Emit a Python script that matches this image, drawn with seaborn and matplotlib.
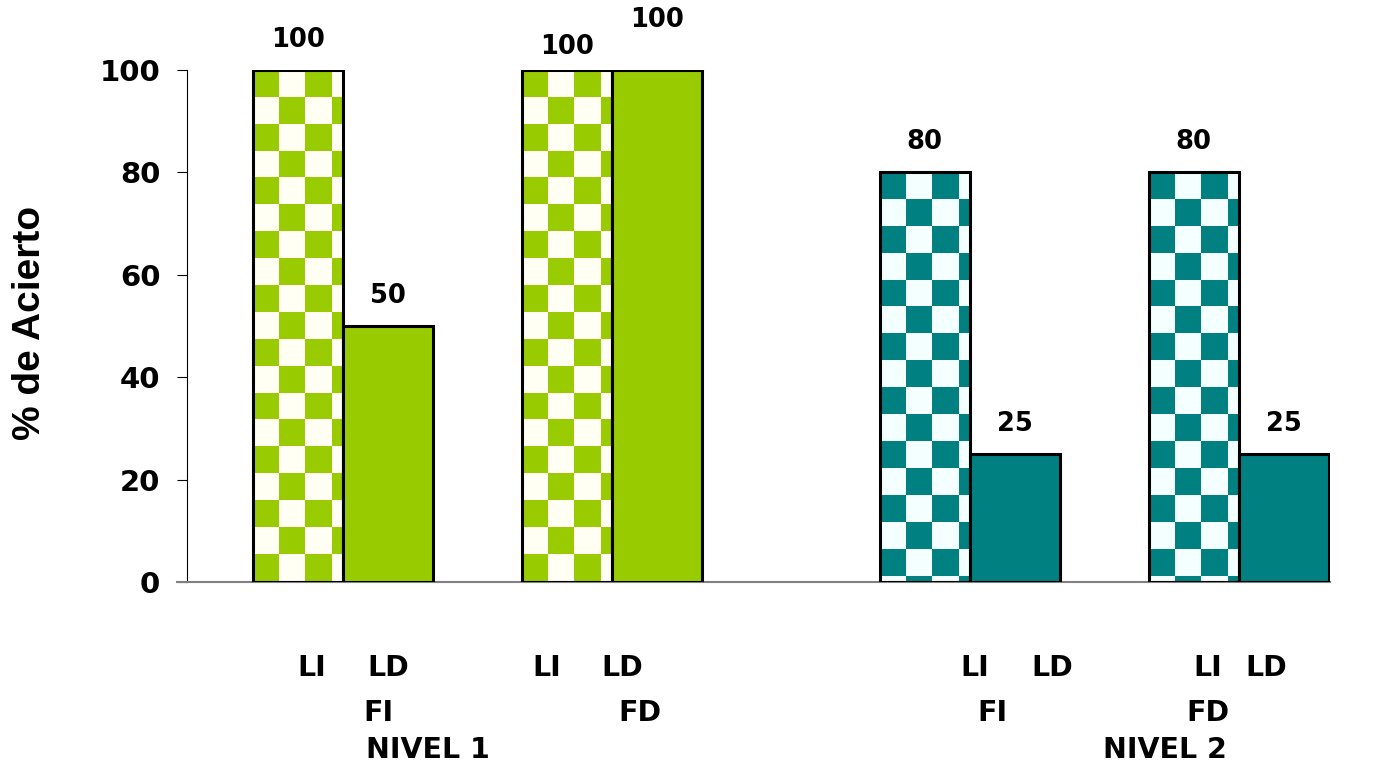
import numpy as np
import pandas as pd
import matplotlib
matplotlib.use("Agg")
import matplotlib.pyplot as plt
import matplotlib.transforms as mtransforms
from matplotlib.colors import ListedColormap
import seaborn as sns

# ---- data ----
niveles = ["NIVEL 1", "NIVEL 1", "NIVEL 2", "NIVEL 2"]
formas = ["FI", "FD", "FI", "FD"]
lados = ["LI", "LD"]
acierto_li = [100, 100, 80, 80]
acierto_ld = [50, 100, 25, 25]
y_ticks = [0, 20, 40, 60, 80, 100]

nivel_colors = {"NIVEL 1": "#99CC00", "NIVEL 2": "#008080"}
light_colors = {"NIVEL 1": "#FFFFF4", "NIVEL 2": "#F4FFFF"}

# group positions: one slot per group, extra gap before the second level
level_gap = 0.33
group_pos = [i + (level_gap if n == "NIVEL 2" else 0.0) for i, n in enumerate(niveles)]

rows = []
for g, (pos, niv, fo) in enumerate(zip(group_pos, niveles, formas)):
    rows.append({"pos": pos, "lado": "LI", "valor": acierto_li[g], "nivel": niv, "forma": fo})
    rows.append({"pos": pos, "lado": "LD", "valor": acierto_ld[g], "nivel": niv, "forma": fo})
df = pd.DataFrame(rows)

sns.set_theme(style="white")
plt.rcParams["font.family"] = ["DejaVu Sans"]
plt.rcParams["font.weight"] = "bold"
plt.rcParams["text.color"] = "black"
plt.rcParams["ytick.color"] = "black"
plt.rcParams["ytick.labelcolor"] = "black"
plt.rcParams["ytick.labelsize"] = 21

fig = plt.figure(figsize=(13.86, 7.69), dpi=100)
ax = fig.add_axes([177 / 1386, 187 / 769, (1330 - 177) / 1386, 512 / 769])

sns.barplot(data=df, x="pos", y="valor", hue="lado", hue_order=lados,
            native_scale=True, width=0.67, dodge=True, errorbar=None,
            legend=False, ax=ax, linewidth=2.2, edgecolor="black", saturation=1)

li_bars = ax.containers[0]
ld_bars = ax.containers[1]

# checkerboard fill for the LI bars, solid fill for the LD bars
sq_w = 0.0967
sq_h = 5.25
for g, bar in enumerate(li_bars):
    niv = niveles[g]
    bar.set_facecolor("none")
    bar.set_zorder(3)
    x0 = bar.get_x()
    w = bar.get_width()
    h = bar.get_height()
    nx = int(np.ceil(w / sq_w)) + 1
    ny = int(np.ceil(h / sq_h)) + 1
    yy, xx = np.indices((ny, nx))
    board = ((xx + yy) % 2 == 0).astype(float)
    cmap = ListedColormap([light_colors[niv], nivel_colors[niv]])
    im = ax.imshow(board, cmap=cmap, vmin=0, vmax=1, interpolation="nearest",
                   origin="upper", aspect="auto",
                   extent=[x0, x0 + nx * sq_w, h - ny * sq_h, h], zorder=2)
    im.set_clip_path(bar)

for g, bar in enumerate(ld_bars):
    bar.set_facecolor(nivel_colors[niveles[g]])
    bar.set_zorder(3)

ax.set_xlim((177 - 343) / 269, (1330 - 343) / 269)
ax.set_ylim(0, 100)

# value labels above bars (raised a bit where two equal bars sit side by side)
label_px = {("LI", 1): 23, ("LD", 1): 50}
for lado, bars, vals in (("LI", li_bars, acierto_li), ("LD", ld_bars, acierto_ld)):
    for g, (bar, v) in enumerate(zip(bars, vals)):
        ax.annotate(f"{v}", xy=(bar.get_x() + bar.get_width() / 2, v),
                    xytext=(0, label_px.get((lado, g), 30)), textcoords="offset pixels",
                    ha="center", va="center", fontsize=18.5, fontweight="bold",
                    color="black", annotation_clip=False)

# axes styling
ax.set_xlabel("")
ax.set_ylabel("")
ax.set_xticks([])
ax.set_yticks(y_ticks)
ax.tick_params(axis="y", which="major", direction="out", length=7.2, width=0.8,
               color="black", labelcolor="black", labelsize=21, pad=12, left=True)
for side in ("top", "right"):
    ax.spines[side].set_visible(False)
ax.spines["left"].set_position(("axes", 10 / 1153))
ax.spines["left"].set_color("black")
ax.spines["left"].set_linewidth(0.8)
ax.spines["bottom"].set_color("#808080")
ax.spines["bottom"].set_linewidth(1.5)

fig.text(30 / 1386, (769 - 323) / 769, "% de Acierto", rotation=90,
         ha="center", va="center", fontsize=28, fontweight="bold", color="black",
         family=["Liberation Sans", "DejaVu Sans"])

# category labels under the axis
trans = mtransforms.blended_transform_factory(ax.transData, fig.transFigure)
row_y = [(769 - 668) / 769, (769 - 713) / 769, (769 - 750) / 769]
label_dx = [(-0.115, 0.167, 0.130), (-0.242, 0.037, 0.104),
            (0.019, 0.305, 0.086), (-0.115, 0.104, -0.115)]
for g, pos in enumerate(group_pos):
    dli, dld, dfo = label_dx[g]
    kw = dict(transform=trans, ha="center", va="center", fontsize=20.5,
              fontweight="bold", color="black")
    ax.text(pos + dli, row_y[0], lados[0], **kw)
    ax.text(pos + dld, row_y[0], lados[1], **kw)
    ax.text(pos + dfo, row_y[1], formas[g], **kw)
nivel_x = {"NIVEL 1": 0.316, "NIVEL 2": 3.056}
for niv, xpos in nivel_x.items():
    ax.text(xpos, row_y[2], niv, transform=trans, ha="center", va="center",
            fontsize=20.5, fontweight="bold", color="black")

fig.savefig("out.png", dpi=100)
